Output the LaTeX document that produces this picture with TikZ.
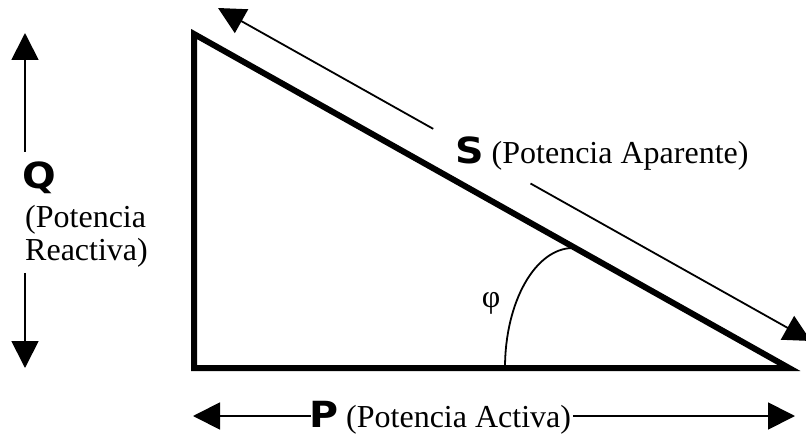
\documentclass[tikz,border=0pt]{standalone}
\usepackage{fontspec}
\setmainfont{Liberation Serif}
\newfontfamily\bsf{DejaVu Sans}[FakeStretch=1.1]
\usetikzlibrary{arrows.meta,calc}
\newcommand\bigletter[1]{{\fontsize{36}{38}\selectfont\bsf\bfseries #1}}
\begin{document}
\begin{tikzpicture}[x=1pt,y=-1pt,
  edgeline/.style={line width=6pt, line join=miter},
  thinline/.style={line width=1.8pt},
  arr/.style={line width=1.8pt, -{Triangle[length=27pt,width=27pt]}},
  lbl/.style={inner sep=0pt, anchor=base west, font=\fontsize{32}{34}\selectfont}]
\useasboundingbox (0,0) rectangle (806,436);
% triangle
\coordinate (A) at (194,34);
\coordinate (B) at (194,368);
\coordinate (C) at (789,368);
\draw[edgeline] (A) -- (B) -- (C) -- cycle;
% angle arc
\coordinate (arcstart) at (505,368);
\draw[thinline] (arcstart) arc[start angle=180, end angle=270, x radius=68, y radius=120];
\node[lbl, anchor=center] (phi) at (491,303) {φ};
% S arrow
\coordinate (s1) at (218,8);
\coordinate (s2) at (811,341);
\draw[arr] ($(s1)!0.363!(s2)$) -- (s1);
\draw[arr] ($(s1)!0.527!(s2)$) -- (s2);
\node[lbl] (S) at (455,163) {\bigletter{S} (Potencia Aparente)};
% Q arrow
\coordinate (q1) at (25,33);
\coordinate (q2) at (25,368);
\draw[arr] ($(q1)!0.355!(q2)$) -- (q1);
\draw[arr] ($(q1)!0.716!(q2)$) -- (q2);
\node[lbl] (Q) at (22,188) {\bigletter{Q}};
\node[lbl] (Q1) at (25,227) {(Potencia};
\node[lbl] (Q2) at (25,260) {Reactiva)};
% P arrow
\coordinate (p1) at (193,416);
\coordinate (p2) at (795,416);
\draw[arr] ($(p1)!0.196!(p2)$) -- (p1);
\draw[arr] ($(p1)!0.631!(p2)$) -- (p2);
\node[lbl] (P) at (309,427) {\bigletter{P} (Potencia Activa)};
\end{tikzpicture}
\end{document}
